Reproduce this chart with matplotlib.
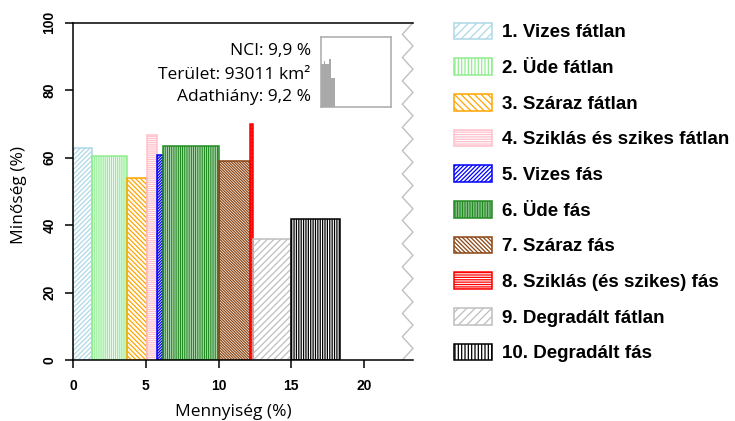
import numpy as np
import matplotlib
matplotlib.use("Agg")
import matplotlib.pyplot as plt
from matplotlib.patches import Patch

# Adatok
categories = ["1. Vizes fátlan", "2. Üde fátlan", "3. Száraz fátlan",
              "4. Sziklás és szikes fátlan", "5. Vizes fás", "6. Üde fás",
              "7. Száraz fás", "8. Sziklás (és szikes) fás",
              "9. Degradált fátlan", "10. Degradált fás"]
mennyiseg = [1.28, 2.39, 1.38, 0.69, 0.46, 3.83, 2.13, 0.19, 2.64, 3.40]
minoseg = [62.8, 60.5, 53.9, 66.7, 60.7, 63.4, 58.9, 70.0, 36.0, 41.9]
colors = ["#ADD8E6", "#90EE90", "#FFA500", "#FFC0CB", "#0000FF",
          "#228B22", "#8B4513", "#FF0000", "#BEBEBE", "#000000"]
hatch_chars = ["/", "|", "\\", "-", "/", "|", "\\", "-", "/", "|"]
bar_density = [7, 8, 7, 8, 12, 9, 12, 12, 5, 7]
legend_density = [4, 5, 5, 7, 8, 10, 8, 7, 4, 5]
x_ticks = [0, 5, 10, 15, 20]
y_ticks = [0, 20, 40, 60, 80, 100]

nci = "9,9"
terulet = "93011"
adathiany = "9,2"

# kis hisztogram a dobozban
inset_edges = [0, 4.3, 6.7, 12.0, 14.4, 21.1]
inset_heights = [61, 66, 62, 69, 42]

plt.rcParams["hatch.linewidth"] = 0.9
label_font = ["Open Sans", "DejaVu Sans"]
bold_font = ["Liberation Sans", "DejaVu Sans"]

fig = plt.figure(figsize=(7.35, 4.21), dpi=100)
ax = fig.add_axes([0.0997, 0.1449, 0.4622, 0.8012])

left = np.concatenate([[0], np.cumsum(mennyiseg)[:-1]])
for i in range(len(categories)):
    ax.bar(left[i], minoseg[i], width=mennyiseg[i], align="edge",
           facecolor="none", edgecolor=colors[i],
           hatch=hatch_chars[i] * bar_density[i], linewidth=1.1)

ax.set_xlim(0, 23.38)
ax.set_ylim(0, 100)
ax.spines["right"].set_visible(False)
for s in ["left", "bottom", "top"]:
    ax.spines[s].set_linewidth(1.1)

tick_kw = dict(fontsize=10, fontweight="bold", family=bold_font)
ax.set_xticks(x_ticks, labels=[str(t) for t in x_ticks], **tick_kw)
ax.set_yticks(y_ticks, labels=[str(t) for t in y_ticks], rotation=90,
              va="center", **tick_kw)
ax.tick_params(axis="both", length=6, width=1.1)
ax.tick_params(axis="x", pad=8)
ax.tick_params(axis="y", pad=6)

ax.set_xlabel("Mennyiség (%)", family=label_font, fontsize=12.5, va="center")
ax.set_ylabel("Minőség (%)", family=label_font, fontsize=12.5, va="center")
ax.xaxis.set_label_coords(0.47, -0.155)
ax.yaxis.set_label_coords(-0.16, 0.49)

# cikcakk a jobb oldalon
zz_y = np.linspace(1, 0, 30)
zz_x = np.where(np.arange(30) % 2 == 0, 1.0, 0.9685)
ax.plot(zz_x, zz_y, color="#C0C0C0", linewidth=1.0,
        transform=ax.transAxes, clip_on=False)

# szöveg
ax.text(0.699, 0.915, "NCI: " + nci + " %", transform=ax.transAxes,
        ha="right", va="center", family=label_font, fontsize=12.5)
ax.text(0.699, 0.846, "Terület: " + terulet + " km²", transform=ax.transAxes,
        ha="right", va="center", family=label_font, fontsize=12.5)
ax.text(0.699, 0.781, "Adathiány: " + adathiany + " %", transform=ax.transAxes,
        ha="right", va="center", family=label_font, fontsize=12.5)

# beillesztett doboz
ins = fig.add_axes([0.4363, 0.7458, 0.0952, 0.1663])
ins.bar(inset_edges[:-1], inset_heights, width=np.diff(inset_edges),
        align="edge", color="#A9A9A9", linewidth=0)
ins.set_xlim(0, 100)
ins.set_ylim(0, 100)
ins.set_xticks([])
ins.set_yticks([])
for s in ins.spines.values():
    s.set_color("#AAAAAA")
    s.set_linewidth(1.1)

# jelmagyarázat
handles = [Patch(facecolor="none", edgecolor=colors[i],
                 hatch=hatch_chars[i] * legend_density[i], linewidth=1.1)
           for i in range(len(categories))]
fig.legend(handles, categories, loc="upper left",
           bbox_to_anchor=(454 / 735, 1 - 22.5 / 421), frameon=False,
           borderpad=0, borderaxespad=0, handlelength=2.03, handleheight=1.0,
           handletextpad=0.53, labelspacing=0.90,
           prop={"family": bold_font, "weight": "bold", "size": 13.5})

fig.savefig("out.png", dpi=100)
